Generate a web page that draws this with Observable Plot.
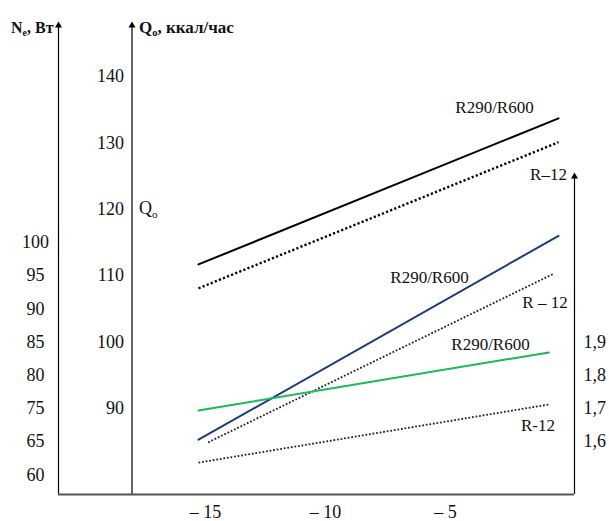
<!DOCTYPE html>
<html><head><meta charset="utf-8">
<script src="https://cdn.jsdelivr.net/npm/d3@7"></script>
<script src="https://cdn.jsdelivr.net/npm/@observablehq/plot@0.6"></script>
<style>body{margin:0;background:#fff} svg{display:block} svg text{font-family:"Liberation Serif","Times New Roman",serif}</style>
</head><body><div id="chart"></div>
<script>
// ---- data ----
const xTicks = [-15, -10, -5];
const xTickLabels = ["– 15", "– 10", "– 5"];
const q0Ticks = [90, 100, 110, 120, 130, 140];
const neTicks = [100, 95, 90, 85, 80, 75, 65, 60];
const copTicks = [1.6, 1.7, 1.8, 1.9];
const copTickLabels = ["1,6", "1,7", "1,8", "1,9"];

const tempQ0 = [-15, 0];
const q0R290 = [111.7, 133.7];
const q0R12 = [108.1, 130.1];

const tempNeR290 = [-15, 0];
const neR290 = [65.6, 101.0];
const tempNeR12 = [-14.6, -0.2];
const neR12 = [64.9, 95.3];

const tempCop = [-15, -0.4];
const copR290 = [1.694, 1.869];
const copR12 = [1.537, 1.712];

// ---- layout ----
const W = 609, H = 521;
const pxX = d3.scaleLinear([-15, 0], [198, 558]);
const pxY = d3.scaleLinear([90, 140], [408, 76]);
const xLeft = pxX.invert(58), xRight = pxX.invert(574), xQ = pxX.invert(131.5);
const yBottom = pxY.invert(494), yTop = pxY.invert(23);
// secondary quantities mapped onto the Q0 axis
const neToQ = d3.scaleLinear(neTicks.slice().reverse(), neTicks.map((d, i) => 115 - 5 * i).reverse());
const copToQ = d3.scaleLinear([1.6, 1.9], [85, 100]);

const zip = (xs, ys, f = d => d) => xs.map((x, i) => ({x, y: f(ys[i])}));

const labels = [
  {t: "R290/R600", x: pxX.invert(494), y: pxY.invert(107)},
  {t: "R–12", x: pxX.invert(548), y: pxY.invert(174)},
  {t: "R290/R600", x: pxX.invert(429), y: pxY.invert(277)},
  {t: "R – 12", x: pxX.invert(544.5), y: pxY.invert(302)},
  {t: "R290/R600", x: pxX.invert(490), y: pxY.invert(344)},
  {t: "R-12", x: pxX.invert(537.5), y: pxY.invert(425)}
];

const serif = "Liberation Serif, Times New Roman, serif";
const T = (data, opts) => Plot.text(data, {fontFamily: serif, fill: "#111", ...opts});

const chart = Plot.plot({
  width: W, height: H,
  marginLeft: 58, marginRight: W - 574, marginTop: 23, marginBottom: H - 494,
  x: {domain: [xLeft, xRight], axis: null},
  y: {domain: [yBottom, yTop], axis: null},
  style: {fontFamily: serif, fontSize: "18px", color: "#111", background: "#fff", overflow: "visible"},
  marks: [
    // axis lines
    Plot.ruleX([xLeft], {y1: yBottom, y2: pxY.invert(26), stroke: "#000", strokeWidth: 1.2}),
    Plot.ruleX([xQ], {y1: yBottom, y2: pxY.invert(26), stroke: "#000", strokeWidth: 1.2}),
    Plot.ruleX([xRight], {y1: yBottom, y2: pxY.invert(177), stroke: "#000", strokeWidth: 1.2}),
    Plot.dot([{x: xLeft, y: pxY.invert(25)}, {x: xQ, y: pxY.invert(25)}, {x: xRight, y: pxY.invert(176)}],
      {x: "x", y: "y", symbol: "triangle", r: 2.6, fill: "#000", stroke: "none"}),
    Plot.ruleY([yBottom], {x1: xLeft, x2: xRight, stroke: "#555", strokeWidth: 2}),

    // series
    Plot.line(zip(tempQ0, q0R290), {x: "x", y: "y", stroke: "#000", strokeWidth: 2}),
    Plot.line(zip(tempQ0, q0R12), {x: "x", y: "y", stroke: "#000", strokeWidth: 2.4, strokeDasharray: "2.2,2.2", strokeLinecap: "butt"}),
    Plot.line(zip(tempNeR290, neR290, neToQ), {x: "x", y: "y", stroke: "#1f3a7c", strokeWidth: 2}),
    Plot.line(zip(tempNeR12, neR12, neToQ), {x: "x", y: "y", stroke: "#222", strokeWidth: 1.8, strokeDasharray: "1.8,1.8", strokeLinecap: "butt"}),
    Plot.line(zip(tempCop, copR290, copToQ), {x: "x", y: "y", stroke: "#1db954", strokeWidth: 2}),
    Plot.line(zip(tempCop, copR12, copToQ), {x: "x", y: "y", stroke: "#222", strokeWidth: 1.8, strokeDasharray: "1.8,1.8", strokeLinecap: "butt"}),

    // tick labels
    T(q0Ticks, {x: () => xQ, y: d => d, text: d => String(d), dx: -8, textAnchor: "end", fontSize: 18}),
    T(neTicks, {x: () => xLeft, y: d => neToQ(d), text: d => String(d), dx: -23, textAnchor: "middle", fontSize: 18}),
    T(copTicks, {x: () => xRight, y: d => copToQ(d), text: (d, i) => copTickLabels[i], dx: 9, textAnchor: "start", fontSize: 18}),
    T(xTicks, {x: d => d, y: () => yBottom, text: (d, i) => xTickLabels[i], dx: 7, dy: 18, textAnchor: "middle", fontSize: 18}),

    // axis titles
    T(["N_e, Вт"], {x: () => xLeft, y: () => pxY.invert(27), text: d => d, dx: -5, textAnchor: "end", fontWeight: "bold", fontSize: 16}),
    T(["Q_o, ккал/час"], {x: () => xQ, y: () => pxY.invert(27), text: d => d, dx: 7, textAnchor: "start", fontWeight: "bold", fontSize: 17}),
    T(["Q_o"], {x: () => xQ, y: () => pxY.invert(208), text: d => d, dx: 7, textAnchor: "start", fontSize: 18}),

    // series labels
    T(labels, {x: "x", y: "y", text: "t", textAnchor: "middle", fontSize: 17})
  ]
});

// subscripts: a character after "_" is drawn as subscript
chart.querySelectorAll("text").forEach(t => {
  const s = t.textContent;
  const k = s.indexOf("_");
  if (k < 0) return;
  const ns = "http://www.w3.org/2000/svg";
  t.textContent = "";
  const a = document.createElementNS(ns, "tspan"); a.textContent = s.slice(0, k);
  const b = document.createElementNS(ns, "tspan"); b.textContent = s[k + 1];
  b.setAttribute("font-size", "0.62em"); b.setAttribute("dy", "0.3em");
  const c = document.createElementNS(ns, "tspan"); c.textContent = s.slice(k + 2);
  c.setAttribute("dy", "-0.19em");
  t.append(a, b, c);
});

document.getElementById("chart").appendChild(chart);
</script>
</body></html>
